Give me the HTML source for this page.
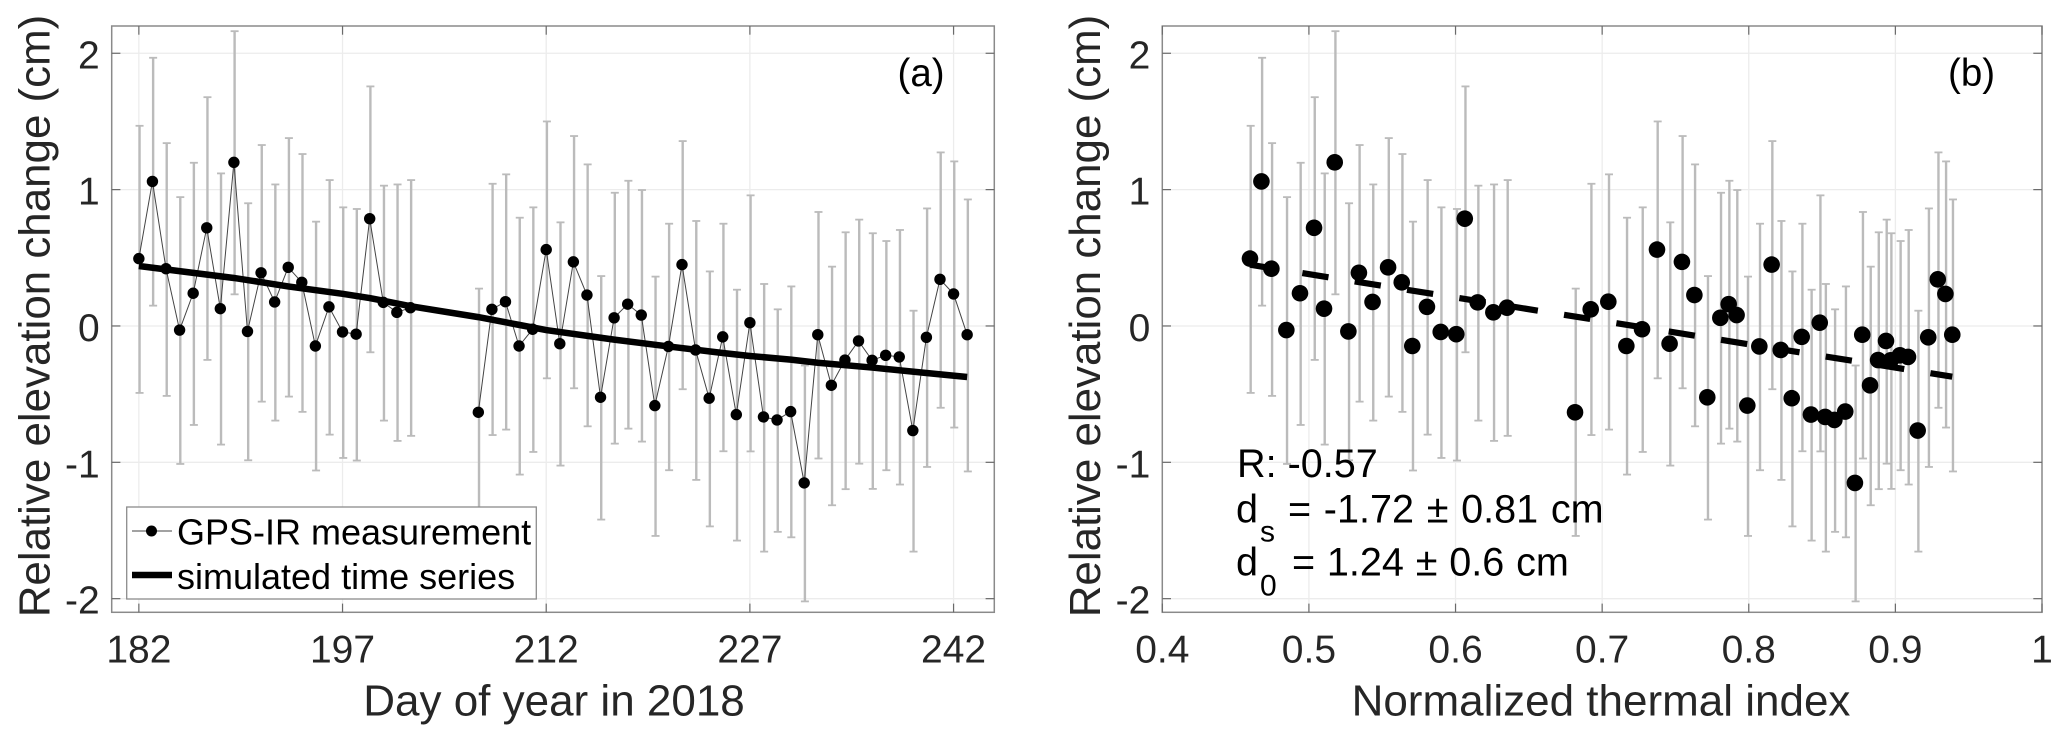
<!DOCTYPE html>
<html lang="en">
<head>
<meta charset="utf-8">
<title>Relative elevation change</title>
<style>
html,body{margin:0;padding:0;background:#fff;}
svg{display:block;font-family:"Liberation Sans",Arial,sans-serif;}
</style>
</head>
<body>
<svg id="fig" xmlns="http://www.w3.org/2000/svg" width="2067" height="743" viewBox="0 0 2067 743">
  <g id="panelA"></g>
  <g id="panelB"></g>

  <text transform="translate(49.5 316) rotate(-90)" text-anchor="middle" font-size="43.9" fill="#262626">Relative elevation change (cm)</text>
  <text transform="translate(1100 316) rotate(-90)" text-anchor="middle" font-size="43.9" fill="#262626">Relative elevation change (cm)</text>
  <text x="554" y="715.5" text-anchor="middle" font-size="44" fill="#262626">Day of year in 2018</text>
  <text x="1601" y="715.5" text-anchor="middle" font-size="44" fill="#262626">Normalized thermal index</text>

  <text x="897.5" y="86" font-size="38.5" fill="#000">(a)</text>
  <text x="1948" y="86" font-size="38.5" fill="#000">(b)</text>

  <g>
    <rect x="126.7" y="507" width="409.6" height="92" fill="#fff" stroke="#8c8c8c" stroke-width="1.3"/>
    <line x1="132" y1="531" x2="172" y2="531" stroke="#444" stroke-width="1"/>
    <circle cx="151.5" cy="531" r="5.5" fill="#000"/>
    <text x="177" y="544.7" font-size="36" fill="#000">GPS-IR measurement</text>
    <line x1="132" y1="575" x2="172" y2="575" stroke="#000" stroke-width="6.5"/>
    <text x="177" y="589" font-size="36" fill="#000">simulated time series</text>
  </g>

  <g fill="#000" font-size="39.6">
    <text x="1237" y="477">R: -0.57</text>
    <text x="1236" y="522.3">d</text>
    <text x="1260" y="541.3" font-size="30">s</text>
    <text x="1288" y="522.3" word-spacing="1.7">= -1.72 ± 0.81 cm</text>
    <text x="1236" y="575.7">d</text>
    <text x="1260" y="595.3" font-size="30">0</text>
    <text x="1292" y="575.7" word-spacing="0.8">= 1.24 ± 0.6 cm</text>
  </g>
</svg>
<script>
const days = [182,183,184,185,186,187,188,189,190,191,192,193,194,195,196,197,198,199,200,201,202,207,208,209,210,211,212,213,214,215,216,217,218,219,220,221,222,223,224,225,226,227,228,229,230,231,232,233,234,235,236,237,238,239,240,241,242,243];
const thermalIndex = [0.4598,0.4676,0.4744,0.4846,0.4939,0.5035,0.5103,0.5176,0.5269,0.5341,0.5434,0.554,0.5633,0.5705,0.5805,0.5899,0.6005,0.6063,0.6151,0.6258,0.6351,0.6815,0.6922,0.7042,0.7165,0.7272,0.7374,0.746,0.7544,0.7629,0.7717,0.7806,0.7863,0.7917,0.799,0.8072,0.8156,0.8218,0.8293,0.8361,0.8424,0.8484,0.8521,0.8584,0.8658,0.8724,0.8774,0.8827,0.8882,0.8936,0.8968,0.9031,0.9086,0.9152,0.9224,0.9289,0.9341,0.9388];
const elevation = [0.494,1.06,0.42,-0.03,0.24,0.72,0.127,1.2,-0.04,0.39,0.176,0.43,0.32,-0.147,0.14,-0.044,-0.06,0.787,0.173,0.1,0.134,-0.633,0.122,0.178,-0.147,-0.024,0.56,-0.13,0.47,0.227,-0.523,0.06,0.16,0.08,-0.584,-0.15,0.45,-0.176,-0.53,-0.08,-0.65,0.024,-0.667,-0.689,-0.628,-1.151,-0.064,-0.435,-0.25,-0.11,-0.252,-0.215,-0.227,-0.767,-0.083,0.342,0.235,-0.064];
const errUpper = [1.468,1.967,1.341,0.945,1.197,1.678,1.119,2.162,0.9,1.327,1.038,1.378,1.261,0.765,1.07,0.87,0.858,1.757,1.029,1.038,1.07,0.274,1.043,1.112,0.794,0.87,1.5,0.76,1.393,1.185,0.366,0.977,1.065,0.997,0.362,0.75,1.356,0.77,0.4,0.75,0.266,0.958,0.308,0.122,0.29,-0.29,0.836,0.435,0.687,0.78,0.68,0.623,0.704,0.112,0.862,1.273,1.207,0.928];
const errLower = [-0.491,0.149,-0.513,-1.012,-0.726,-0.249,-0.87,0.232,-0.985,-0.555,-0.694,-0.518,-0.63,-1.06,-0.797,-0.968,-0.987,-0.193,-0.694,-0.843,-0.806,-1.54,-0.8,-0.76,-1.09,-0.924,-0.384,-1.024,-0.457,-0.736,-1.42,-0.863,-0.753,-0.848,-1.54,-1.058,-0.464,-1.129,-1.47,-0.919,-1.574,-0.92,-1.655,-1.51,-1.55,-2.02,-0.972,-1.315,-1.197,-1.01,-1.195,-1.058,-1.163,-1.655,-1.034,-0.6,-0.745,-1.067];
const simDays = [182,189,193,197,199,202,207,210,212,217,221,225,227,230,232,236,240,243];
const simValues = [0.44,0.352,0.29,0.236,0.205,0.145,0.065,0.008,-0.03,-0.1,-0.15,-0.198,-0.22,-0.247,-0.27,-0.305,-0.345,-0.374];
const trendIndex = [0.4598,0.9388];
const trendValues = [0.449,-0.372];
const yTicks = [-2,-1,0,1,2];
const xTicksDay = [182,197,212,227,242];
const xTicksIndex = [0.4,0.5,0.6,0.7,0.8,0.9,1];

const NS = 'http://www.w3.org/2000/svg';
function make(parent, tag, attrs) {
  const el = document.createElementNS(NS, tag);
  for (const k in attrs) el.setAttribute(k, attrs[k]);
  parent.appendChild(el);
  return el;
}
function linear(d0, d1, r0, r1) {
  return v => r0 + (v - d0) * (r1 - r0) / (d1 - d0);
}
const plotTop = 26, plotBottom = 612.3;
const yScale = linear(-2.1, 2.2, plotBottom, plotTop);

function drawFrame(root, left, right, xScale, xTicks) {
  const grid = make(root, 'g', {stroke: '#ececec', 'stroke-width': 1.3});
  
  
  xTicks.forEach(t => {
    const g = make(grid, 'line', {x1: xScale(t), x2: xScale(t), y1: plotTop, y2: plotBottom});
    
    
  });
  yTicks.forEach(t => {
    const g = make(grid, 'line', {x1: left, x2: right, y1: yScale(t), y2: yScale(t)});
    
    
  });
}
function drawAxes(root, left, right, xScale, xTicks) {
  const axes = make(root, 'g', {stroke: '#6a6a6a', 'stroke-width': 1.2});
  
  
  const box = make(axes, 'rect', {x: left, y: plotTop, width: right - left, height: plotBottom - plotTop, fill: 'none', stroke: '#8a8a8a', 'stroke-width': 1.5});
  
  
  xTicks.forEach(t => {
    const x = xScale(t);
    const a = make(axes, 'line', {x1: x, x2: x, y1: plotBottom, y2: plotBottom - 8.7});
    
    
    const b = make(axes, 'line', {x1: x, x2: x, y1: plotTop, y2: plotTop + 8.7});
    
    
    const label = make(root, 'text', {x: x, y: 662.3, 'text-anchor': 'middle', 'font-size': 39, fill: '#262626'});
    
    
    label.textContent = String(t);
  });
  yTicks.forEach(t => {
    const y = yScale(t);
    const a = make(axes, 'line', {x1: left, x2: left + 8.7, y1: y, y2: y});
    
    
    const b = make(axes, 'line', {x1: right, x2: right - 8.7, y1: y, y2: y});
    
    
    const label = make(root, 'text', {x: left - 12, y: y + 15, 'text-anchor': 'end', 'font-size': 39, fill: '#262626'});
    
    
    label.textContent = String(t);
  });
}
function drawErrorBars(root, xValues, xScale) {
  const bars = make(root, 'g', {stroke: '#bbbbbb', 'stroke-width': 2.4, transform: 'translate(0.7 0)'});
  
  
  xValues.forEach((v, i) => {
    const x = xScale(v), yu = yScale(errUpper[i]), yl = yScale(errLower[i]);
    const stem = make(bars, 'line', {x1: x, x2: x, y1: yu, y2: yl});
    
    
    const capU = make(bars, 'line', {x1: x - 4, x2: x + 4, y1: yu, y2: yu, 'stroke-width': 1.8});
    
    
    const capL = make(bars, 'line', {x1: x - 4, x2: x + 4, y1: yl, y2: yl, 'stroke-width': 1.8});
    
    
  });
}
function drawMarkers(root, xValues, xScale, r) {
  const group = make(root, 'g', {fill: '#000'});
  
  
  xValues.forEach((v, i) => {
    const c = make(group, 'circle', {cx: xScale(v), cy: yScale(elevation[i]), r: r});
    
    
  });
}

const panelA = document.getElementById('panelA');
const xDay = linear(180, 245, 111.7, 994.3);
drawFrame(panelA, 111.7, 994.3, xDay, xTicksDay);
drawErrorBars(panelA, days, xDay);
// The measurement line breaks wherever days are missing from the record.
const runs = [];
days.forEach((d, i) => {
  if (i === 0 || d - days[i - 1] > 1) runs.push([]);
  runs[runs.length - 1].push(xDay(d) + ',' + yScale(elevation[i]));
});
runs.forEach(run => {
  const measureLine = make(panelA, 'polyline', {points: run.join(' '), fill: 'none', stroke: '#444', 'stroke-width': 1});
  
  
});
drawMarkers(panelA, days, xDay, 5.7);
const simLine = make(panelA, 'polyline', {
  points: simDays.map((d, i) => xDay(d) + ',' + yScale(simValues[i])).join(' '),
  fill: 'none', stroke: '#000', 'stroke-width': 6.5
});


drawAxes(panelA, 111.7, 994.3, xDay, xTicksDay);

const panelB = document.getElementById('panelB');
const xIdx = linear(0.4, 1, 1162.3, 2042);
drawFrame(panelB, 1162.3, 2042, xIdx, xTicksIndex);
drawErrorBars(panelB, thermalIndex, xIdx);
const trend = make(panelB, 'polyline', {
  points: trendIndex.map((v, i) => xIdx(v) + ',' + yScale(trendValues[i])).join(' '),
  fill: 'none', stroke: '#000', 'stroke-width': 6.2, 'stroke-dasharray': '26.5 26.5'
});


drawMarkers(panelB, thermalIndex, xIdx, 8.3);
drawAxes(panelB, 1162.3, 2042, xIdx, xTicksIndex);
</script>
</body>
</html>
